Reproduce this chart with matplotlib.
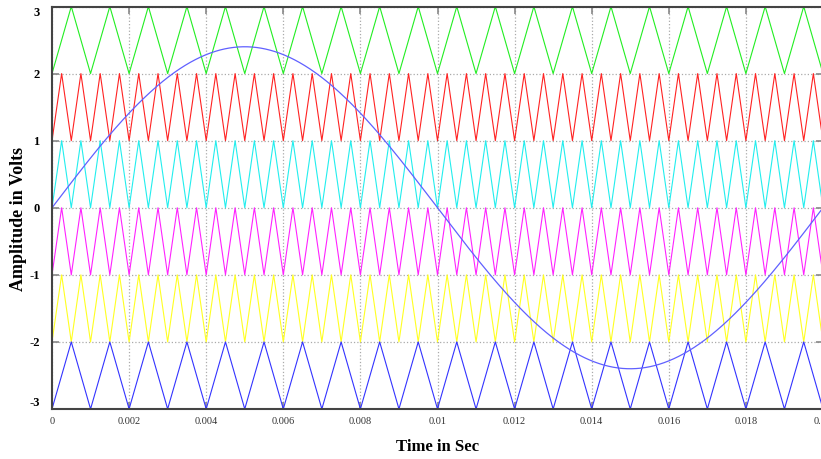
import numpy as np
import matplotlib.pyplot as plt

# carrier bands (lower edge of each 1 V band), colours and carrier frequencies
band_bottoms = [2, 1, 0, -1, -2, -3]
band_colors = ['#22ee22', '#ff2222', '#22eeee', '#ff22ff', '#ffff22', '#3333ff']
carrier_freqs = [1000, 2000, 2000, 2000, 2000, 1000]

# reference sine
ref_amp = 2.4
ref_freq = 50

x_ticks = [0, 0.002, 0.004, 0.006, 0.008, 0.01, 0.012, 0.014, 0.016, 0.018, 0.02]
x_ticklabels = ['0', '0.002', '0.004', '0.006', '0.008', '0.01', '0.012', '0.014',
                '0.016', '0.018', '0.02']
y_ticks = [-3, -2, -1, 0, 1, 2, 3]

t = np.linspace(0, 0.02, 8001)

fig = plt.figure(figsize=(8.21, 4.59), dpi=100)
ax = fig.add_axes([52 / 821, 1 - 409 / 459, 771 / 821, 402.5 / 459])

for bottom, col, f in zip(band_bottoms, band_colors, carrier_freqs):
    phase = (t * f) % 1.0
    tri = 1 - np.abs(2 * phase - 1)  # 0 at start of period, 1 at half period
    ax.plot(t, bottom + tri, color=col, lw=0.8)

ax.plot(t, ref_amp * np.sin(2 * np.pi * ref_freq * t), color='#6060ff', lw=0.9)

ax.set_xlim(0, 0.02)
ax.set_ylim(-3, 3)
ax.set_xticks(x_ticks)
ax.set_xticklabels(x_ticklabels, family='Liberation Serif', fontsize=7.5, color='#333333')
ax.set_yticks(y_ticks)
ax.set_yticklabels([str(v) for v in y_ticks], family='Liberation Serif', fontsize=9,
                   fontweight='bold')
ylabs = ax.get_yticklabels()
ylabs[0].set_va('bottom')
ylabs[-1].set_va('top')

ax.tick_params(axis='both', direction='in', length=5, color='#888888', width=1.2,
               top=True, right=True)
ax.tick_params(axis='x', pad=6)
ax.tick_params(axis='y', pad=9)
ax.grid(True, linestyle=':', color='#aaaaaa', lw=0.9)
for s in ax.spines.values():
    s.set_color('#444444')
    s.set_linewidth(1.5)

ax.set_xlabel('Time in Sec', family='Liberation Serif', fontsize=12, fontweight='bold',
              va='center')
ax.xaxis.set_label_coords(0.5, -0.094)
ax.set_ylabel('Amplitude in Volts', family='Liberation Serif', fontsize=13,
              fontweight='bold', va='center')
ax.yaxis.set_label_coords(-0.043, 0.472)

fig.savefig('out.png', dpi=100)
